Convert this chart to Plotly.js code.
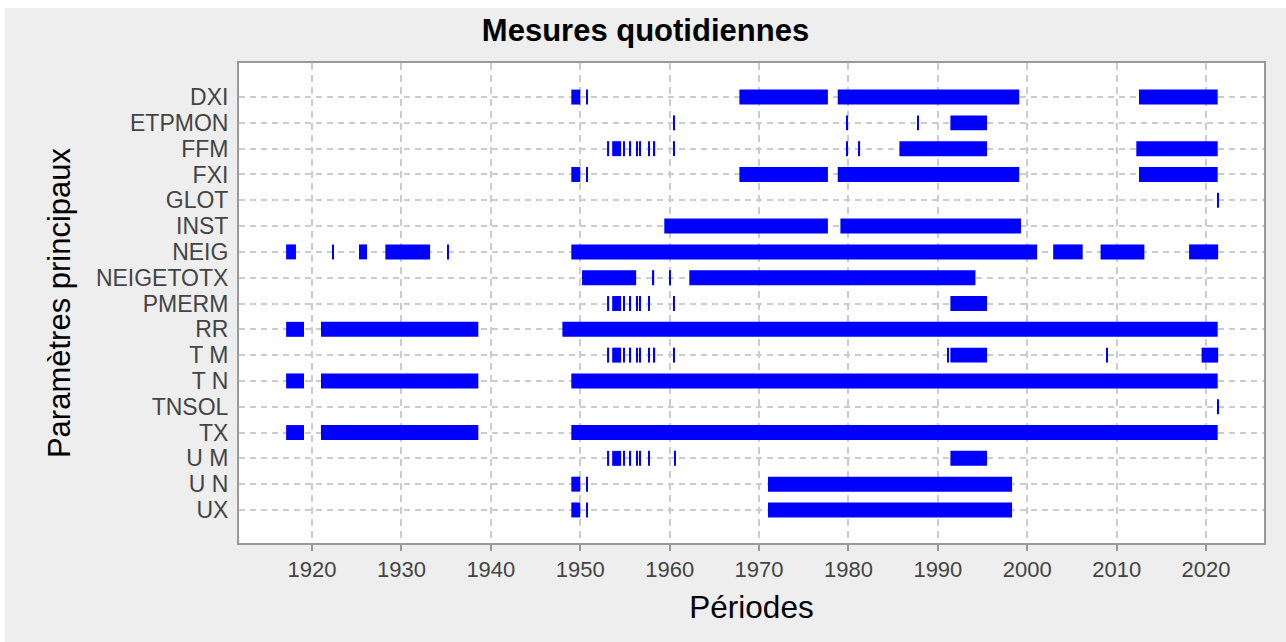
<!DOCTYPE html>
<html>
<head>
<meta charset="utf-8">
<script src="https://cdn.plot.ly/plotly-3.0.1.min.js"></script>
<style>
  html, body { margin:0; padding:0; background:#ffffff; }
  #chart { position:absolute; left:5px; top:8px; width:1281px; height:634px; }
</style>
</head>
<body>
<div id="chart"></div>
<script>
// Parameter names (top to bottom)
const categories = ["DXI","ETPMON","FFM","FXI","GLOT","INST","NEIG","NEIGETOTX","PMERM","RR","T M","T N","TNSOL","TX","U M","U N","UX"];

// Measurement periods [start year, end year] for each parameter
const DXI = [[1949.0,1950.0],[1950.7,1950.85],[1967.8,1977.7],[1978.8,1999.1],[2012.5,2021.3]];
const ETPMON = [[1960.4,1960.6],[1979.75,1979.9],[1987.7,1987.85],[1991.4,1995.5]];
const FFM = [[1953.0,1953.23],[1953.57,1954.57],[1954.8,1954.91],[1955.47,1955.69],[1956.25,1956.37],[1956.6,1956.8],[1957.6,1957.71],[1958.16,1958.38],[1960.4,1960.6],[1979.75,1979.86],[1981.1,1981.3],[1985.7,1995.5],[2012.2,2021.3]];
const FXI = [[1949.0,1950.0],[1950.7,1950.85],[1967.8,1977.7],[1978.8,1999.1],[2012.5,2021.3]];
const GLOT = [[2021.25,2021.4]];
const INST = [[1959.4,1977.7],[1979.1,1999.3]];
const NEIG = [[1917.1,1918.2],[1922.25,1922.35],[1925.25,1926.15],[1928.2,1933.2],[1935.1,1935.22],[1949.0,2001.1],[2002.9,2006.2],[2008.2,2013.1],[2018.1,2021.35]];
const NEIGETOTX = [[1950.2,1956.25],[1958.05,1958.27],[1959.95,1960.06],[1962.2,1994.2]];
const PMERM = [[1953.0,1953.23],[1953.57,1954.57],[1954.8,1954.91],[1955.47,1955.69],[1956.25,1956.37],[1956.6,1956.8],[1957.6,1957.71],[1960.4,1960.6],[1991.4,1995.5]];
const RR = [[1917.1,1919.1],[1921.0,1938.6],[1948.0,2021.3]];
const TM = [[1953.0,1953.23],[1953.57,1954.57],[1954.8,1954.91],[1955.47,1955.69],[1956.25,1956.37],[1956.6,1956.8],[1957.6,1957.71],[1958.16,1958.38],[1960.4,1960.6],[1991.05,1991.17],[1991.4,1995.5],[2008.84,2008.96],[2019.5,2021.35]];
const TN = [[1917.1,1919.1],[1921.0,1938.6],[1949.0,2021.3]];
const TNSOL = [[2021.25,2021.4]];
const TX = [[1917.1,1919.1],[1921.0,1938.6],[1949.0,2021.3]];
const UM = [[1953.0,1953.23],[1953.57,1954.57],[1954.8,1954.91],[1955.47,1955.69],[1956.25,1956.37],[1956.6,1956.8],[1957.6,1957.71],[1960.5,1960.62],[1991.4,1995.5]];
const UN = [[1949.0,1950.0],[1950.7,1950.85],[1971.0,1998.3]];
const UX = [[1949.0,1950.0],[1950.7,1950.85],[1971.0,1998.3]];

const xTickVals = [1920,1930,1940,1950,1960,1970,1980,1990,2000,2010,2020];

const periodLists = [DXI,ETPMON,FFM,FXI,GLOT,INST,NEIG,NEIGETOTX,PMERM,RR,TM,TN,TNSOL,TX,UM,UN,UX];

const ys = [], bases = [], lens = [];
periodLists.forEach((list, i) => {
  list.forEach(p => { ys.push(categories[i]); bases.push(p[0]); lens.push(p[1] - p[0]); });
});

const trace = {
  type: 'bar',
  orientation: 'h',
  y: ys,
  x: lens,
  base: bases,
  width: 0.58,
  marker: { color: '#0000ff', line: { width: 0 } },
  hoverinfo: 'skip',
  showlegend: false
};

const tickFont = { family: 'Liberation Sans, Arial, sans-serif', size: 22, color: '#444444' };

const layout = {
  width: 1281,
  height: 634,
  paper_bgcolor: '#eeeeee',
  plot_bgcolor: '#ffffff',
  margin: { l: 234, r: 22, t: 55, b: 99, pad: 0 },
  showlegend: false,
  barmode: 'overlay',
  title: {
    text: 'Mesures quotidiennes',
    font: { family: 'Liberation Sans, Arial, sans-serif', size: 31, color: '#000000', weight: 'bold' },
    x: 0.5, xanchor: 'center', xref: 'container',
    y: 1 - 22/634, yanchor: 'middle', yref: 'container'
  },
  xaxis: {
    range: [1911.83, 2026.48],
    tickmode: 'array',
    tickvals: xTickVals,
    ticktext: xTickVals.map(String),
    tickfont: tickFont,
    ticks: 'outside', ticklen: 6, tickwidth: 2, tickcolor: '#999999',
    showline: true, linecolor: '#999999', linewidth: 2, mirror: true,
    showgrid: true, gridcolor: '#cccccc', gridwidth: 1.5, griddash: '7px,5px',
    zeroline: false,
    title: { text: 'Périodes', font: { family: 'Liberation Sans, Arial, sans-serif', size: 31.5, color: '#000000' }, standoff: 15 }
  },
  yaxis: {
    type: 'category',
    categoryorder: 'array',
    categoryarray: categories,
    tickmode: 'array',
    tickvals: categories,
    ticktext: categories,
    range: [17.28, -1.32],
    tickfont: { family: 'Liberation Sans, Arial, sans-serif', size: 23, color: '#444444' },
    ticks: '', ticklabelstandoff: 4,
    showline: true, linecolor: '#999999', linewidth: 2, mirror: true,
    showgrid: true, gridcolor: '#cccccc', gridwidth: 1.5, griddash: '6px,5px',
    zeroline: false,
    title: { text: 'Paramètres principaux', font: { family: 'Liberation Sans, Arial, sans-serif', size: 31, color: '#000000' }, standoff: 16 }
  }
};

Plotly.newPlot('chart', [trace], layout, { displayModeBar: false, staticPlot: false });
</script>
</body>
</html>
